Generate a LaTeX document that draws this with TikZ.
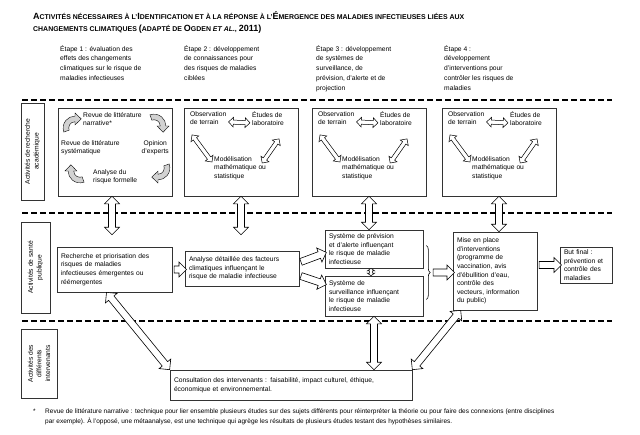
\documentclass[tikz,border=0pt]{standalone}
\usepackage{fontspec}
\setmainfont{Liberation Sans}
\usetikzlibrary{calc,positioning,shapes.arrows,decorations.pathreplacing}
\newcommand\Lg[1]{{\fontsize{9}{10}\selectfont #1}}
% fat hollow arrow from one point to another
\newcommand\fatlink[3][fatdarrow]{%
  \path let \p1=($#3-#2$), \n1={atan2(\y1,\x1)}, \n2={veclen(\x1,\y1)} in
    node[#1,minimum height=\n2,rotate=\n1] at ($#2!0.5!#3$) {};}
\tikzset{
  body/.style={font=\fontsize{6.7}{8.6}\selectfont},
  txt/.style={body,align=left,inner sep=0pt},
  head/.style={txt,font=\fontsize{6.7}{9.8}\selectfont},
  txtbox/.style={draw=black!80,line width=.6pt,body,align=left,inner xsep=4pt,inner ysep=2pt},
  bigbox/.style={draw=black!80,line width=.6pt,minimum width=114,minimum height=88},
  labbox/.style={draw=black!80,line width=.6pt,body,align=center,inner sep=0pt,rotate=90},
  divider/.style={line width=1.3pt,dash pattern=on 5.5pt off 3.5pt},
  fatdarrow/.style={double arrow,draw,fill=white,line width=.6pt,inner sep=0pt,inner ysep=3.2pt,
    double arrow head extend=4pt,double arrow tip angle=90},
  fatarrow/.style={single arrow,draw,fill=white,line width=.6pt,inner sep=0pt,inner ysep=3.2pt,
    single arrow head extend=4pt,single arrow tip angle=90},
  smdarrow/.style={fatdarrow,line width=.5pt,inner ysep=1.8pt,double arrow head extend=2.8pt},
  tinyarrow/.style={fatdarrow,line width=.5pt,inner ysep=1.2pt,double arrow head extend=2.3pt,double arrow tip angle=110},
  cyc/.pic={\filldraw[fill=gray!35,draw=black,line width=.4pt]
    (200:9.5) arc[start angle=200,end angle=90,radius=9.5] -- (0,12) -- (5,7.25) -- (0,2.5) -- (0,5)
    arc[start angle=90,end angle=200,radius=5] -- cycle;},
}
\begin{document}
\begin{tikzpicture}[x=1pt,y=1pt]
  \useasboundingbox (0,0) rectangle (640,-434);
  \node[anchor=north west,align=left,inner sep=0pt,font=\fontsize{6.95}{12}\selectfont\bfseries] (ttl) at (33,-11)
    {\Lg{A}CTIVITÉS NÉCESSAIRES À L'\Lg{I}DENTIFICATION ET À LA RÉPONSE À L'\Lg{É}MERGENCE DES MALADIES INFECTIEUSES LIÉES AUX\\
     CHANGEMENTS CLIMATIQUES \Lg{(}ADAPTÉ DE \Lg{O}GDEN \textit{ET AL.}, \Lg{2011)}};
  % étapes
  \node[head,anchor=north west] (e1) at (60,-45) {Étape 1 : évaluation des\\effets des changements\\climatiques sur le risque de\\maladies infectieuses};
  \node[head,anchor=north west] (e2) at (184,-45) {Étape 2 : développement\\de connaissances pour\\des risques de maladies\\ciblées};
  \node[head,anchor=north west] (e3) at (316,-45) {Étape 3 : développement\\de systèmes de\\surveillance, de\\prévision, d'alerte et de\\projection};
  \node[head,anchor=north west] (e4) at (444,-45) {Étape 4 :\\développement\\d'interventions pour\\contrôler les risques de\\maladies};
  \draw[divider] (22,-100) -- (612,-100);
  \draw[divider] (22,-213) -- (612,-213);
  \draw[divider] (22,-321) -- (612,-321);
  % recherche académique
  \node[labbox,minimum width=97,minimum height=23] (lab1) at (32.5,-151.5) {Activités de recherche\\académique};
  \foreach \i/\x in {1/115,2/241,3/369,4/499}
    \node[bigbox] (b\i) at (\x,-152) {};
  \node[txt,anchor=north west] (narr) at (83,-112) {Revue de littérature\\narrative*};
  \node[txt,anchor=north west] (syst) at (61,-140) {Revue de littérature\\systématique};
  \node[txt,anchor=north east,align=center] (opin) at (169,-140) {Opinion\\d'experts};
  \node[txt,anchor=north west] (anar) at (93,-169) {Analyse du\\risque formelle};
  \pic[scale=1.25] at (75,-128) {cyc};
  \pic[rotate=-90,scale=1.25] at (154,-126) {cyc};
  \pic[rotate=180,scale=1.25] at (158,-168) {cyc};
  \pic[rotate=90,scale=1.25] at (80,-171) {cyc};
  \foreach \i/\l in {2/184,3/312,4/442}{
    \node[txt,anchor=north west] (obs\i) at (\l+6,-111) {Observation\\de terrain};
    \node[txt,anchor=north west] (etu\i) at (\l+68,-111) {Études de\\laboratoire};
    \node[txt,anchor=north west] (mod\i) at (\l+30,-156) {Modélisation\\mathématique ou\\statistique};
    \fatlink[smdarrow]{([xshift=2pt,yshift=3pt]obs\i.south east)}{([xshift=-2pt,yshift=3pt]etu\i.south west)}
    \fatlink[smdarrow]{([xshift=2pt,yshift=-10pt]obs\i.south west)}{([xshift=-2pt,yshift=-6pt]mod\i.north west)}
    \fatlink[smdarrow]{([xshift=-5pt,yshift=-13pt]etu\i.south east)}{([xshift=-4pt,yshift=-7pt]mod\i.north east)}
  }
  % santé publique
  \node[labbox,minimum width=91,minimum height=29] (lab2) at (35.5,-267.5) {Activités de santé\\publique};
  \node[txtbox,text width=107,minimum height=45] (rech) at (114.5,-269.5) {Recherche et priorisation des\\risques de maladies\\infectieuses émergentes ou\\réémergentes};
  \node[txtbox,text width=106,minimum height=35] (anal) at (242,-268.5) {Analyse détaillée des facteurs\\climatiques influençant le\\risque de maladie infectieuse};
  \node[txtbox,text width=90,minimum height=38] (prev) at (374,-249) {Système de prévision\\et d'alerte influençant\\le risque de maladie\\infectieuse};
  \node[txtbox,text width=90,minimum height=40] (surv) at (374,-296) {Système de\\surveillance influençant\\le risque de maladie\\infectieuse};
  \node[txtbox,text width=76,minimum height=78] (mise) at (495,-271) {Mise en place\\d'interventions\\(programme de\\vaccination, avis\\d'ébullition d'eau,\\contrôle des\\vecteurs, information\\du public)};
  \node[txtbox,text width=44,minimum height=36] (but) at (586,-265) {But final :\\prévention et\\contrôle des\\maladies};
  \coordinate (s1) at ([xshift=-3pt]b1.south);
  \coordinate (t1) at ([yshift=12pt]rech.north);
  \coordinate (t2) at ([yshift=16pt]anal.north);
  \fatlink{(s1)}{(t1 -| s1)}
  \fatlink{(b2.south)}{(t2 -| b2.south)}
  \fatlink{(b3.south)}{(prev.north -| b3.south)}
  \fatlink{(b4.south)}{(mise.north -| b4.south)}
  \fatlink[fatarrow]{(rech.east)}{(anal.west |- rech.east)}
  \fatlink[fatarrow]{([yshift=6pt]anal.east)}{([yshift=-4pt]prev.west)}
  \fatlink[fatarrow]{([yshift=-7pt]anal.east)}{([yshift=12pt]surv.west)}
  \fatlink[tinyarrow]{([xshift=-3pt]prev.south)}{([xshift=-3pt]surv.north)}
  \coordinate (brmid) at ($(prev.east)!.5!(surv.east)$);
  \draw[decorate,decoration={brace,amplitude=4pt},line width=.6pt] ([xshift=3pt,yshift=27pt]brmid) -- ([xshift=3pt,yshift=-27pt]brmid);
  \fatlink[fatarrow]{([xshift=8pt]brmid)}{(mise.west |- brmid)}
  \fatlink[fatarrow]{(mise.east |- but.west)}{(but.west)}
  % intervenants
  \node[labbox,minimum width=69,minimum height=36] (lab3) at (39,-363.5) {Activités des\\différents\\intervenants};
  \node[txtbox,text width=234,minimum height=30] (cons) at (291,-385) {Consultation des intervenants : faisabilité, impact culturel, éthique,\\économique et environnemental.};
  \fatlink{([xshift=-8pt]rech.south)}{(cons.north west)}
  \fatlink{(surv.south)}{(cons.north -| surv.south)}
  \fatlink{([xshift=8pt]mise.south west)}{(cons.north east)}
  % note
  \node[txt,anchor=north west,font=\fontsize{6.5}{10}\selectfont] (fnm) at (33,-409) {*};
  \node[txt,anchor=north west,font=\fontsize{6.5}{10}\selectfont] (fn) at (45,-409) {Revue de littérature narrative : technique pour lier ensemble plusieurs études sur des sujets différents pour réinterpréter la théorie ou pour faire des connexions (entre disciplines\\par exemple). À l'opposé, une métaanalyse, est une technique qui agrège les résultats de plusieurs études testant des hypothèses similaires.};
\end{tikzpicture}
\end{document}
